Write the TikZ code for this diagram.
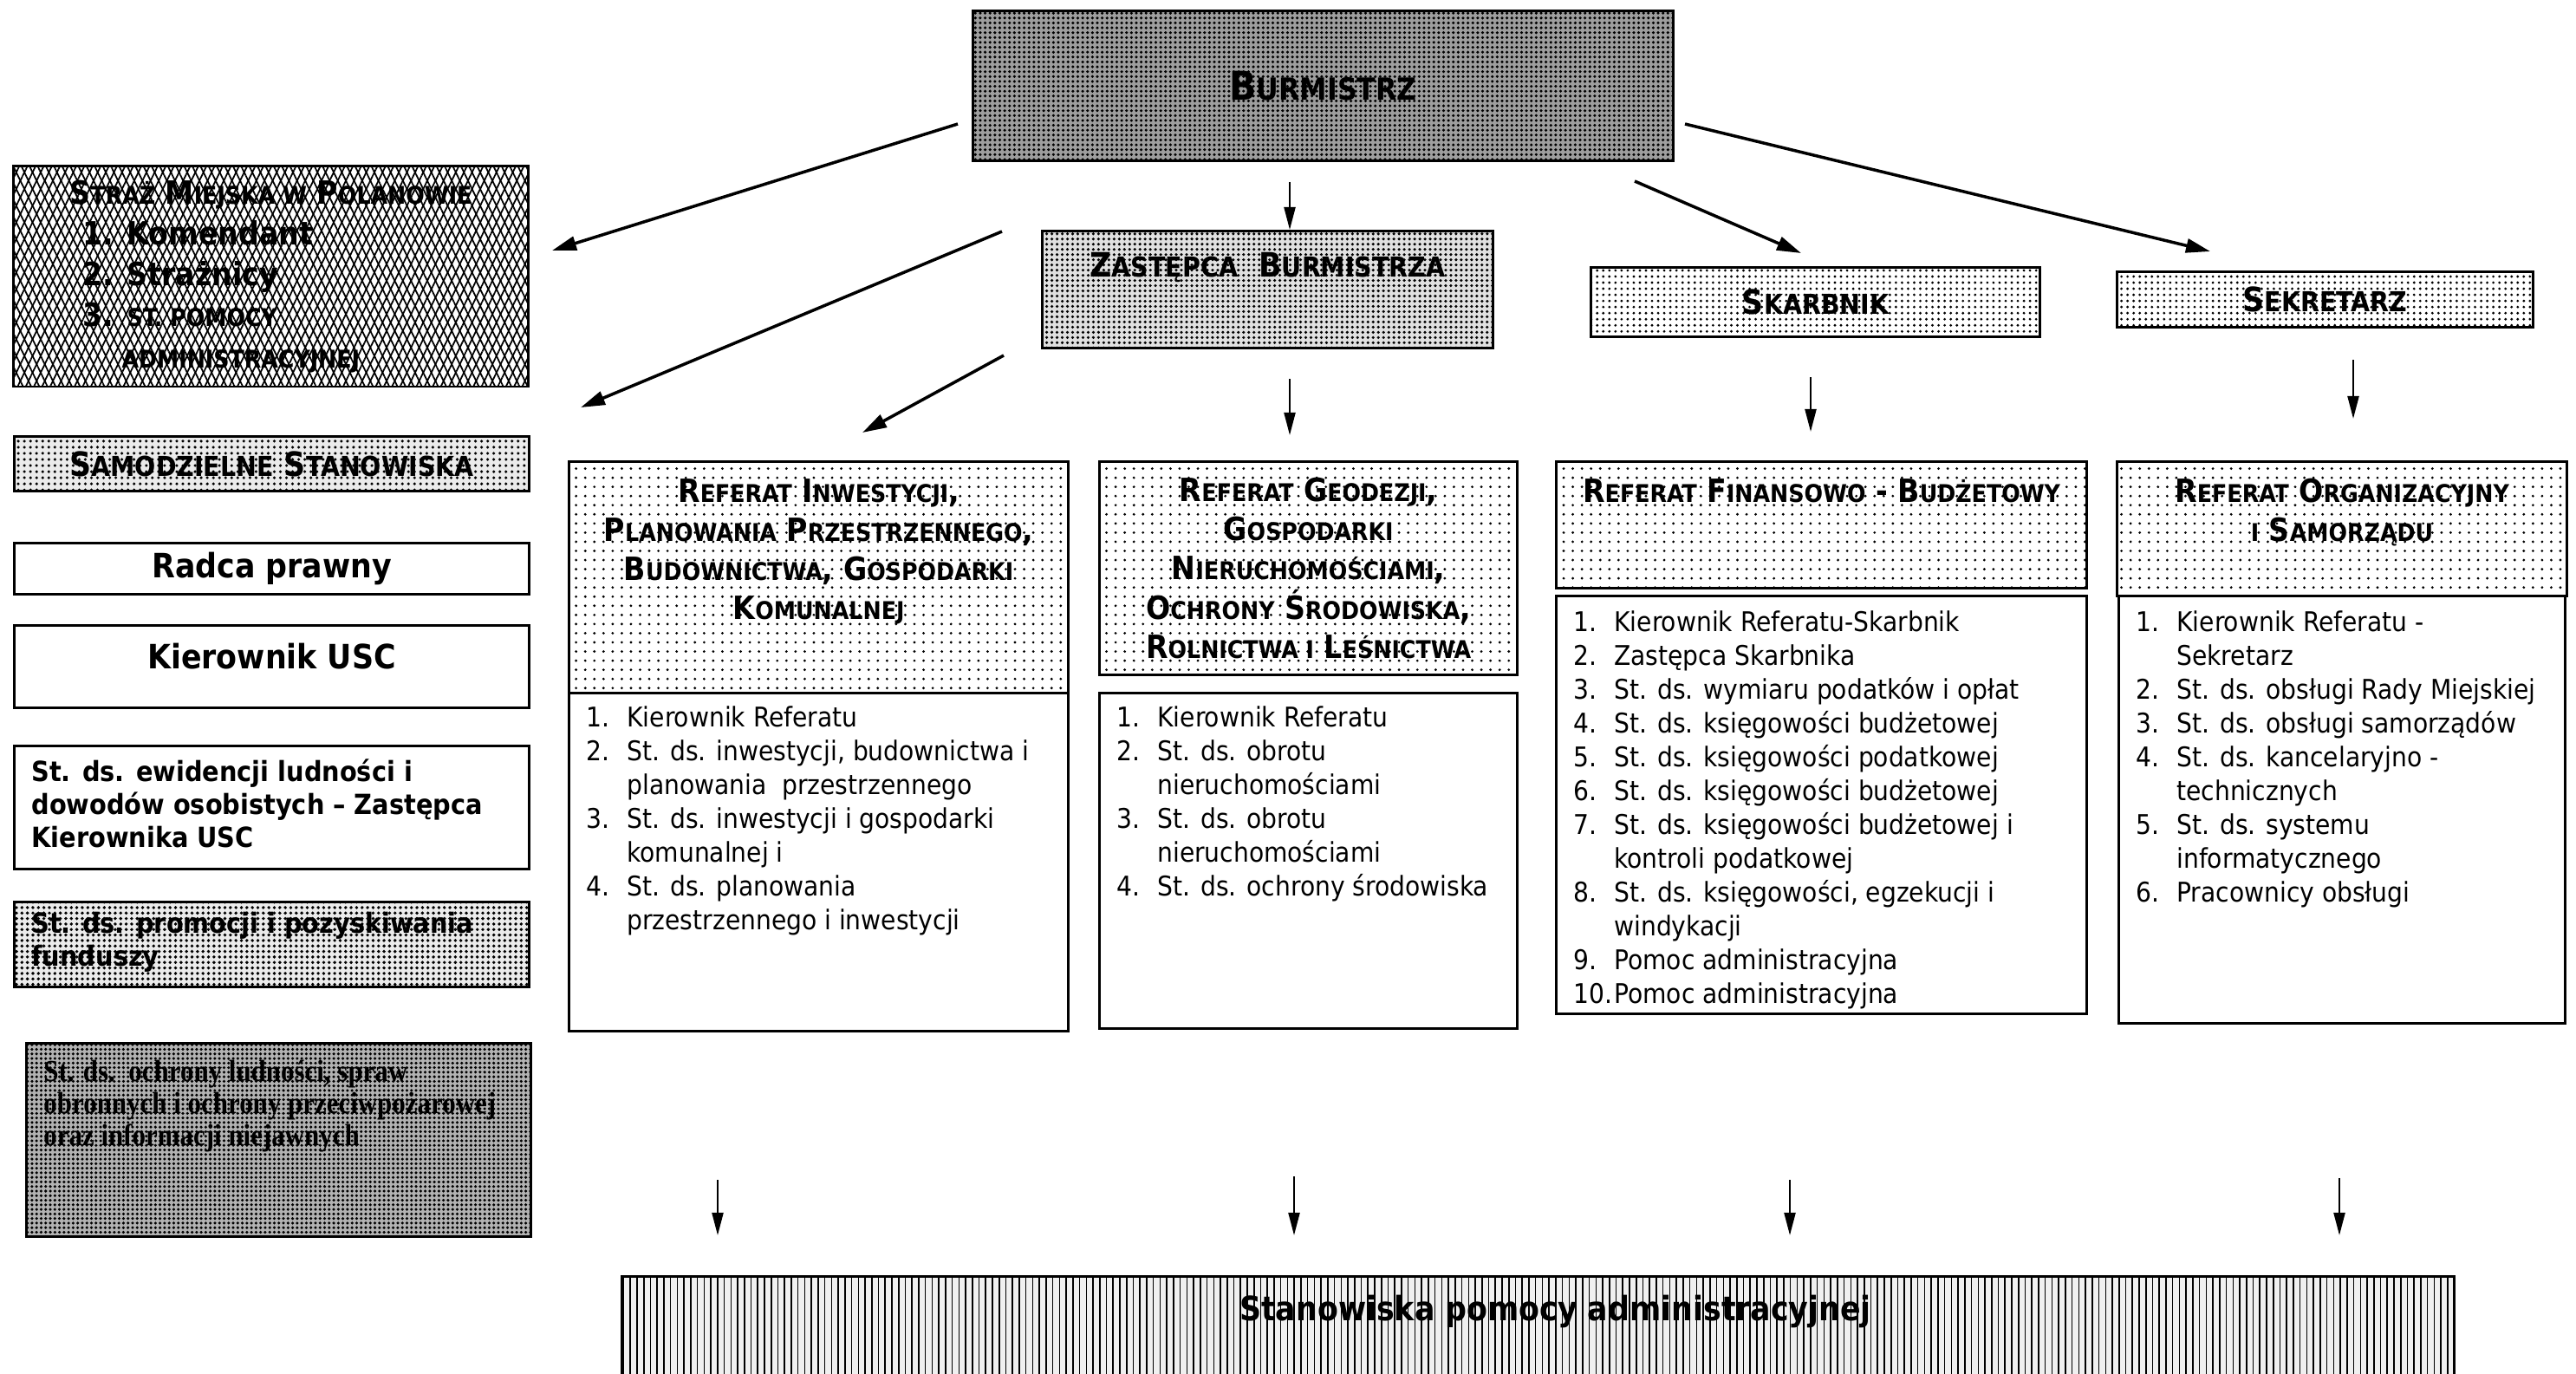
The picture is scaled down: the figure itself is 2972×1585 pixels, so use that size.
\documentclass[tikz,border=0pt]{standalone}
\usepackage{fontspec}
\setmainfont{DejaVu Sans Condensed}
\newfontfamily\serifbox[FakeStretch=0.88]{Liberation Serif}
\usepackage{relsize}
\usepackage{enumitem}
\usepackage{tikz}
\usetikzlibrary{positioning}
\usetikzlibrary{arrows.meta}
\usetikzlibrary{patterns.meta}
\setlist[enumerate]{label=\makebox[1.05em][l]{\arabic*.},leftmargin=1.5em,labelwidth=1.05em,labelsep=0.45em,align=left,nosep}
\newcommand\sk[1]{\textscale{0.8}{#1}}
\newcommand\boxpar[3]{\parbox[t][#2cm][t]{\dimexpr#1cm-0.4cm\relax}{#3}}
\tikzset{
    orgchart/.style={
            x=0.01cm,y=-0.01cm,
            box/.style={draw,line width=0.8pt,inner sep=0pt,anchor=north west},
            padded/.style={inner xsep=0.2cm,inner ysep=0pt},
            arrow/.style={-{Triangle[length=2.6mm,width=1.3mm]},line width=0.6pt},
            slant/.style={-{Triangle[length=2.8mm,width=1.6mm]},line width=1pt},
            burmfill/.style={fill=black!38,postaction={pattern={Dots[distance=1.6pt,radius=0.5pt]}}},
            zastfill/.style={fill=black!12,postaction={pattern={Dots[distance=1.7pt,radius=0.5pt]}}},
            chieffill/.style={postaction={pattern={Dots[distance=2pt,radius=0.45pt]}}},
            headfill/.style={postaction={pattern={Dots[distance=3pt,radius=0.45pt]}}},
            samfill/.style={fill=black!8,postaction={pattern={Dots[distance=2pt,radius=0.5pt]}}},
            promfill/.style={fill=black!8,postaction={pattern={Dots[distance=1.8pt,radius=0.55pt]}}},
            ochrfill/.style={fill=black!30,postaction={pattern={Dots[distance=1.5pt,radius=0.5pt]}}},
            strazfill/.style={pattern={Lines[angle=64,distance=2.4pt,line width=0.5pt]},
                    postaction={pattern={Lines[angle=-64,distance=2.4pt,line width=0.5pt]}}},
            stanfill/.style={fill=black!6,postaction={pattern={Lines[angle=90,distance=2.2pt,line width=0.45pt]}}},
            chieffont/.style={font=\fontsize{11}{13}\selectfont\bfseries},
            headfont/.style={font=\fontsize{10.5}{12.8}\selectfont\bfseries},
            listfont/.style={font=\fontsize{8.9}{11.1}\selectfont},
            posfont/.style={font=\fontsize{9.1}{10.8}\selectfont\bfseries}
        }
    }

\begin{document}
\begin{tikzpicture}[orgchart]
    \useasboundingbox (0,0) rectangle (2972,1585);

    % kierownictwo
    \node[box,burmfill,font=\fontsize{13}{15}\selectfont\bfseries,minimum width=8.08cm,minimum height=1.73cm] (burm) at (1121,11) {B\sk{URMISTRZ}};
    \node[box,padded,zastfill,chieffont] (zast) at (1201,265) {\boxpar{5.20}{1.35}{\centering\vspace*{0.25cm}Z\sk{ASTĘPCA}\ \ B\sk{URMISTRZA}}};
    \node[box,chieffill,chieffont,minimum width=5.18cm,minimum height=0.80cm] (skarb) at (1834,307) {S\sk{KARBNIK}};
    \node[box,chieffill,chieffont,minimum width=4.80cm,minimum height=0.64cm] (sekr) at (2441,312) {S\sk{EKRETARZ}};

    % lewa kolumna
    \node[box,strazfill,align=left,font=\fontsize{10.5}{13.4}\selectfont\bfseries,minimum width=5.93cm,minimum height=2.54cm] (straz) at (15,191)
        {S\sk{TRAŻ} M\sk{IEJSKA W} P\sk{OLANOWIE}\\
         \hspace*{0.15cm}{\fontsize{10.5}{13.4}\selectfont 1. Komendant}\\
         \hspace*{0.15cm}{\fontsize{10.5}{13.4}\selectfont 2. Strażnicy}\\
         \hspace*{0.15cm}{\fontsize{10.5}{13.4}\selectfont 3.} \sk{ST. POMOCY}\\
         \hspace*{0.6cm}\sk{ADMINISTRACYJNEJ}};
    \node[box,samfill,chieffont,minimum width=5.94cm,minimum height=0.63cm] (samodz) at (15,502) {S\sk{AMODZIELNE} S\sk{TANOWISKA}};
    \node[box,chieffont,minimum width=5.94cm,minimum height=0.59cm] (radca) at (15,625) {Radca prawny};
    \node[box,chieffont,minimum width=5.94cm,minimum height=0.95cm] (usc) at (15,720) {\raisebox{0.24cm}{Kierownik USC}};
    \node[box,padded,posfont] (ewid) at (15,859) {\boxpar{5.94}{1.42}{\raggedright\vspace*{0.15cm}St. ds. ewidencji ludności i\\ dowodów osobistych – Zastępca\\ Kierownika USC}};
    \node[box,padded,promfill,posfont] (prom) at (15,1039) {\boxpar{5.94}{0.98}{\raggedright\vspace*{0.12cm}St. ds. promocji i pozyskiwania\\ funduszy}};
    \node[box,padded,ochrfill,font={\serifbox\bfseries\fontsize{10}{10.5}\selectfont}] (ochr) at (29,1202) {\boxpar{5.82}{2.23}{\raggedright\vspace*{0.2cm}St. ds.\ \ ochrony ludności, spraw\\ obronnych i ochrony przeciwpożarowej\\ oraz informacji niejawnych}};

    % referaty
    \node[box,padded,headfill,headfont] (invh) at (655,531) {\boxpar{5.76}{2.67}{\centering\vspace*{0.2cm}R\sk{EFERAT} I\sk{NWESTYCJI},\\ P\sk{LANOWANIA} P\sk{RZESTRZENNEGO},\\ B\sk{UDOWNICTWA}, G\sk{OSPODARKI}\\ K\sk{OMUNALNEJ}}};
    \node[box,padded,listfont] (invl) at (655,798) {\boxpar{5.76}{3.90}{\raggedright\vspace*{0.15cm}\begin{enumerate}
        \item Kierownik Referatu
        \item St. ds. inwestycji, budownictwa i\newline planowania\ \ przestrzennego
        \item St. ds. inwestycji i gospodarki\newline komunalnej i
        \item St. ds. planowania\newline przestrzennego i inwestycji
    \end{enumerate}}};

    \node[box,headfill,headfont,align=center,minimum width=4.82cm,minimum height=2.46cm] (geoh) at (1267,531) {R\sk{EFERAT} G\sk{EODEZJI},\\ G\sk{OSPODARKI}\\ N\sk{IERUCHOMOŚCIAMI},\\ O\sk{CHRONY} Ś\sk{RODOWISKA},\\ R\sk{OLNICTWA I} L\sk{EŚNICTWA}};
    \node[box,padded,listfont] (geol) at (1267,798) {\boxpar{4.82}{3.87}{\raggedright\vspace*{0.15cm}\begin{enumerate}
        \item Kierownik Referatu
        \item St. ds. obrotu\newline nieruchomościami
        \item St. ds. obrotu\newline nieruchomościami
        \item St. ds. ochrony środowiska
    \end{enumerate}}};

    \node[box,padded,headfill,headfont] (finh) at (1794,531) {\boxpar{6.12}{1.46}{\centering\vspace*{0.2cm}R\sk{EFERAT} F\sk{INANSOWO} - B\sk{UDŻETOWY}}};
    \node[box,padded,listfont] (finl) at (1794,686) {\boxpar{6.12}{4.82}{\raggedright\vspace*{0.17cm}\begin{enumerate}
        \item Kierownik Referatu-Skarbnik
        \item Zastępca Skarbnika
        \item St. ds. wymiaru podatków i opłat
        \item St. ds. księgowości budżetowej
        \item St. ds. księgowości podatkowej
        \item St. ds. księgowości budżetowej
        \item St. ds. księgowości budżetowej i\newline kontroli podatkowej
        \item St. ds. księgowości, egzekucji i\newline windykacji
        \item Pomoc administracyjna
        \item Pomoc administracyjna
    \end{enumerate}}};

    \node[box,padded,headfill,headfont] (orgh) at (2441,531) {\boxpar{5.19}{1.55}{\centering\vspace*{0.2cm}R\sk{EFERAT} O\sk{RGANIZACYJNY}\\ \sk{I} S\sk{AMORZĄDU}}};
    \node[box,padded,listfont] (orgl) at (2443,686) {\boxpar{5.15}{4.93}{\raggedright\vspace*{0.17cm}\begin{enumerate}
        \item Kierownik Referatu -\newline Sekretarz
        \item St. ds. obsługi Rady Miejskiej
        \item St. ds. obsługi samorządów
        \item St. ds. kancelaryjno -\newline technicznych
        \item St. ds. systemu\newline informatycznego
        \item Pracownicy obsługi
    \end{enumerate}}};

    \node[box,padded,stanfill,font=\fontsize{11}{13}\selectfont\bfseries] (stan) at (716,1471) {\boxpar{21.13}{1.45}{\centering\vspace*{0.22cm}\hspace*{0.4cm}Stanowiska pomocy administracyjnej}};

    % strzalki ukosne
    \coordinate (d1) at (1105,143);
    \coordinate (d1e) at (637,289);
    \coordinate (d2) at (1156,267);
    \coordinate (d2e) at (670,470);
    \coordinate (d3) at (1158,410);
    \coordinate (d3e) at (995,499);
    \coordinate (d4) at (1886,209);
    \coordinate (d4e) at (2078,292);
    \coordinate (d5) at (1944,143);
    \coordinate (d5e) at (2550,290);
    \draw[slant] (d1) -- (d1e);
    \draw[slant] (d2) -- (d2e);
    \draw[slant] (d3) -- (d3e);
    \draw[slant] (d4) -- (d4e);
    \draw[slant] (d5) -- (d5e);

    % strzalki pionowe
    \coordinate (z1) at (1488,210);
    \coordinate (z2) at (1488,437);
    \coordinate (s1) at (2089,435);
    \coordinate (s2) at (2715,415);
    \draw[arrow] (z1) -- (z1 |- zast.north);
    \draw[arrow,shorten >=0.29cm] (z2) -- (z2 |- geoh.north);
    \draw[arrow,shorten >=0.33cm] (s1) -- (s1 |- finh.north);
    \draw[arrow,shorten >=0.48cm] (s2) -- (s2 |- orgh.north);

    \coordinate (k1) at (828,1361);
    \coordinate (k2) at (1493,1357);
    \coordinate (k3) at (2065,1361);
    \coordinate (k4) at (2699,1359);
    \foreach \k in {k1,k2,k3,k4}
        \draw[arrow,shorten >=0.46cm] (\k) -- (\k |- stan.north);
\end{tikzpicture}
\end{document}
